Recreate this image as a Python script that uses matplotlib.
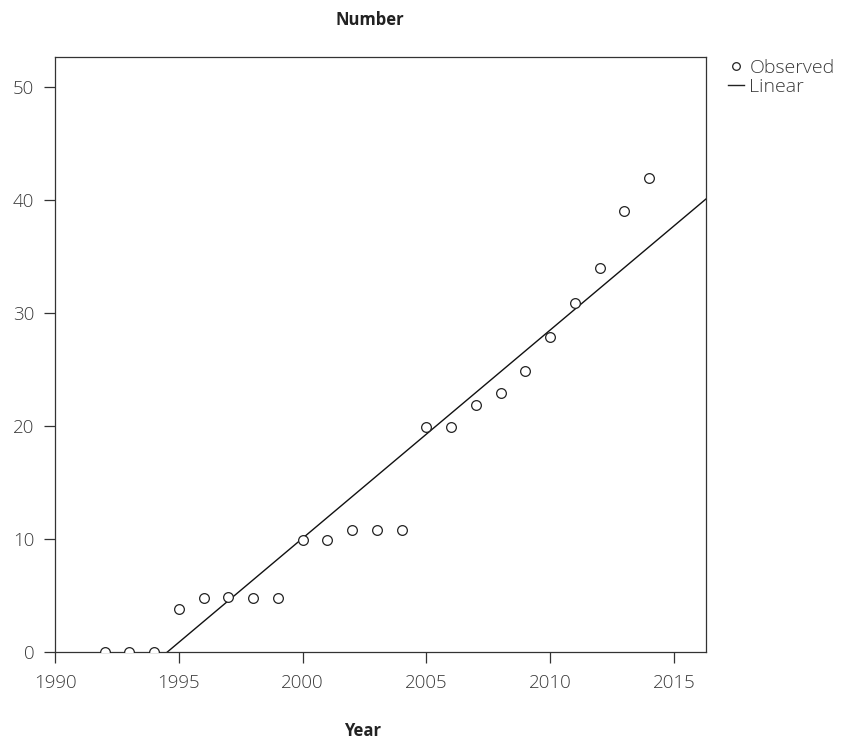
import numpy as np
import matplotlib.pyplot as plt
from matplotlib.lines import Line2D

# observed counts
years = [1992, 1993, 1994, 1995, 1996, 1997, 1998, 1999, 2000, 2001, 2002, 2003,
         2004, 2005, 2006, 2007, 2008, 2009, 2010, 2011, 2012, 2013, 2014]
observed = [0, 0, 0, 3.8, 4.8, 4.9, 4.8, 4.8, 9.9, 9.9, 10.8, 10.8,
            10.8, 19.9, 19.9, 21.9, 22.9, 24.9, 27.9, 30.9, 34.0, 39.0, 41.9]

xticks = [1990, 1995, 2000, 2005, 2010, 2015]
yticks = [0, 10, 20, 30, 40, 50]


def main():
    plt.rcParams['font.family'] = ['Open Sans', 'DejaVu Sans']

    fig = plt.figure(figsize=(8.43, 7.42), dpi=100)
    ax = fig.add_axes([55 / 843, 90 / 742, 651 / 843, 595 / 742])

    x = np.array(years, dtype=float)
    y = np.array(observed)
    slope, intercept = np.polyfit(x, y, 1)
    xl = np.array([1990, 2016.3])

    ax.plot(x, y, linestyle='none', marker='o', markersize=7.0,
            markerfacecolor='white', markeredgecolor='#222222', markeredgewidth=0.9,
            zorder=3)
    ax.plot(xl, slope * xl + intercept, color='#111111', linewidth=1.0, zorder=2)

    ax.set_xlim(1990, 2016.3)
    ax.set_ylim(0, 52.65)
    ax.set_xticks(xticks)
    ax.set_yticks(yticks)
    ax.tick_params(direction='out', length=8, width=0.9, colors='#333333',
                   labelsize=13.5, labelcolor='#3a3a3a')
    ax.tick_params(axis='y', pad=7)
    ax.tick_params(axis='x', pad=8)
    for lab in ax.get_xticklabels() + ax.get_yticklabels():
        lab.set_fontweight('light')
    for s in ax.spines.values():
        s.set_linewidth(0.9)
        s.set_color('#333333')

    fig.text(370 / 843, 1 - 20 / 742, 'Number', ha='center', va='center',
             fontsize=12, fontweight='bold', color='#222222')
    fig.text(363 / 843, 1 - 731 / 742, 'Year', ha='center', va='center',
             fontsize=12, fontweight='bold', color='#222222')

    handles = [
        Line2D([], [], linestyle='none', marker='o', markersize=5.5,
               markerfacecolor='white', markeredgecolor='#222222', markeredgewidth=0.9),
        Line2D([], [], color='#222222', linewidth=1.0),
    ]
    leg = fig.legend(handles, ['Observed', 'Linear'], loc='upper left',
                     bbox_to_anchor=(728 / 843, 1 - 59 / 742), frameon=False,
                     fontsize=14, handlelength=0.8, handletextpad=0.3,
                     labelspacing=0.05, borderaxespad=0, borderpad=0,
                     labelcolor='#3a3a3a')
    for t in leg.get_texts():
        t.set_fontweight('light')

    fig.savefig('out.png', dpi=100)


if __name__ == "__main__":
    main()
